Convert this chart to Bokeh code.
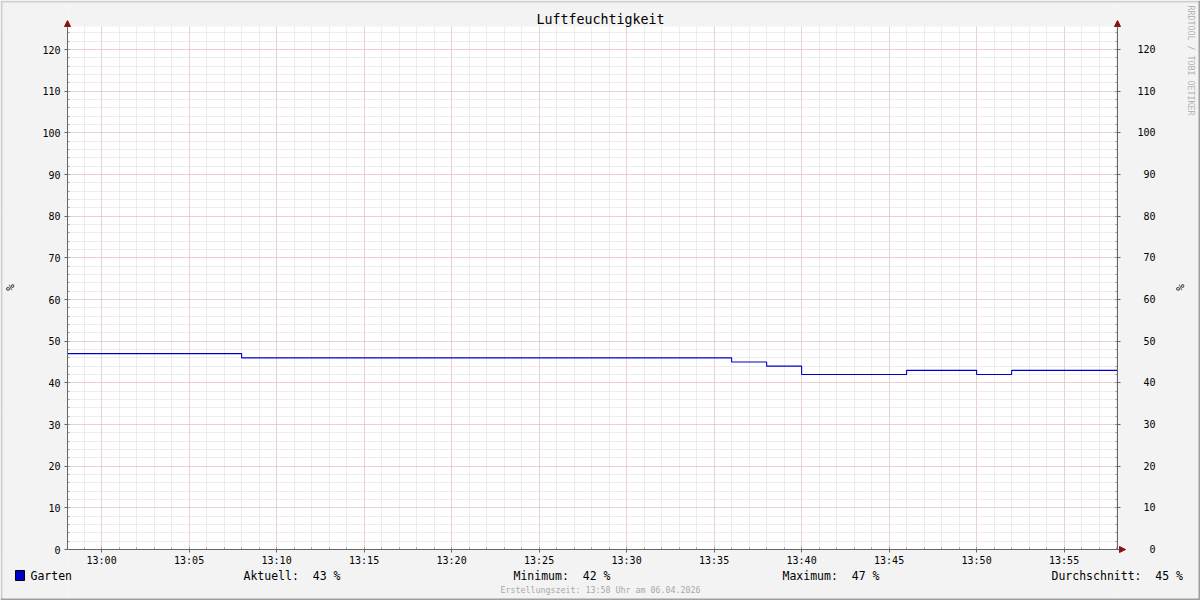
import math
import pandas as pd
from bokeh.plotting import figure
from bokeh.models import (Range1d, LinearAxis, DatetimeAxis, SingleIntervalTicker, DatetimeTickFormatter,
                          CustomJSTickFormatter, Label, BoxAnnotation, Arrow, NormalHead, Grid)
from bokeh.embed import file_html
from bokeh.resources import INLINE

# ---- data ----
title = "Luftfeuchtigkeit"
series_name = "Garten"
step_times = ["2026-04-06 12:58:03", "2026-04-06 13:08:00", "2026-04-06 13:36:00",
              "2026-04-06 13:38:00", "2026-04-06 13:40:00", "2026-04-06 13:46:00",
              "2026-04-06 13:50:00", "2026-04-06 13:52:00", "2026-04-06 13:58:03"]
step_values = [47, 46, 45, 44, 42, 43, 42, 43, 43]
x_start = "2026-04-06 12:58:03"
x_end = "2026-04-06 13:58:03"
y_min, y_max = 0, 125.5
unit_label = "%"
stats_labels = ["Aktuell:", "Minimum:", "Maximum:", "Durchschnitt:"]
stats_values = [43, 42, 47, 45]
footer = "Erstellungszeit: 13:58 Uhr am 06.04.2026"
watermark = "RRDTOOL / TOBI OETIKER"

MONO = "DejaVu Sans Mono"
BG = "#f3f3f3"
W, H = 1200, 600
# plot-area placement on the canvas (pixels)
PL, PR, PB = 67, 1117, 549
PX_PER_UNIT = 500 / 120

ts0, ts1 = pd.Timestamp(x_start), pd.Timestamp(x_end)
ms0, ms1 = ts0.value / 1e6, ts1.value / 1e6
ms_per_px = (ms1 - ms0) / (PR - PL)
xr = Range1d(ms0 - PL * ms_per_px, ms1 + (W - PR) * ms_per_px)
yr = Range1d(-(H - PB) / PX_PER_UNIT, PB / PX_PER_UNIT)

times = pd.to_datetime(step_times)

p = figure(width=W, height=H, x_axis_type=None, y_axis_type=None,
           x_range=xr, y_range=yr, title_location=None,
           output_backend="svg", toolbar_location=None,
           min_border=0, min_border_left=0, min_border_right=0,
           min_border_top=0, min_border_bottom=0)
p.border_fill_color = BG
p.background_fill_color = "white"
p.outline_line_color = None

# tickers
xt = SingleIntervalTicker(interval=5 * 60 * 1000, num_minor_ticks=5)
yt = SingleIntervalTicker(interval=10, num_minor_ticks=5)

xg = Grid(dimension=0, ticker=xt, bounds=(ms0, ms1))
yg = Grid(dimension=1, ticker=yt, bounds=(y_min, y_max))
for g in (xg, yg):
    g.grid_line_color = "#e6b4b4"
    g.grid_line_dash = "1 1"
    g.grid_line_width = 1
    g.minor_grid_line_color = "#dadada"
    g.minor_grid_line_dash = "1 1"
    g.minor_grid_line_width = 1
    p.add_layout(g)

# grey canvas around the plot area (covers grid overflow)
box_kw = dict(fill_color=BG, fill_alpha=1.0, line_color=None, level="underlay")
p.add_layout(BoxAnnotation(right=ms0, **box_kw))
p.add_layout(BoxAnnotation(left=ms1, **box_kw))
p.add_layout(BoxAnnotation(left=ms0, right=ms1, bottom=y_max, **box_kw))
p.add_layout(BoxAnnotation(left=ms0, right=ms1, top=y_min, **box_kw))

p.step(times, step_values, mode="after", line_color="#0000cc", line_width=1.1)

xax = DatetimeAxis(ticker=xt, fixed_location=y_min, bounds=(ms0, ms1),
                   formatter=DatetimeTickFormatter(minutes="%H:%M", hourmin="%H:%M", hours="%H:%M"))
lax = LinearAxis(ticker=yt, fixed_location=ms0, bounds=(y_min, y_max))
rax = LinearAxis(ticker=yt, fixed_location=ms1, bounds=(y_min, y_max),
                 formatter=CustomJSTickFormatter(code="return String(tick).padStart(3, '\\u00a0')"))
p.add_layout(xax, "below")
p.add_layout(lax, "left")
p.add_layout(rax, "right")

for ax in (xax, lax, rax):
    ax.axis_line_color = "#666666"
    ax.major_tick_line_color = "#666666"
    ax.minor_tick_line_color = "#999999"
    ax.major_label_text_font = MONO
    ax.major_label_text_font_size = "10px"
    ax.major_label_text_color = "#000000"
    ax.minor_tick_in = 2
    ax.minor_tick_out = 0
    ax.major_tick_in = 2
    ax.major_tick_out = 3

xax.major_label_standoff = 2
lax.major_label_standoff = 4
rax.major_label_standoff = 17


def sx(px):
    return px


def sy(py):
    return H - py


def lab(text, x, y, size, align="left", color="#000000", angle=0.0, baseline="middle"):
    p.add_layout(Label(x=sx(x), y=sy(y), x_units="screen", y_units="screen", text=text,
                       text_font=MONO, text_font_size=size, text_color=color,
                       text_align=align, text_baseline=baseline, angle=angle))


# title
lab(title, 600, 19, "13.3px", align="center")
# unit labels
lab(unit_label, 10, 287, "11px", align="center", angle=math.pi / 2)
lab(unit_label, 1180, 287, "11px", align="center", angle=math.pi / 2)
# watermark
lab(watermark, 1190, 5, "8.3px", color="#b4b4b4", angle=-math.pi / 2)

# axis arrows
head_col = "#8b1010"
for (x0, y0, x1, y1) in [(67, 549, 67, 20), (1117, 549, 1117, 20), (67, 549, 1125, 549)]:
    p.add_layout(Arrow(x_start=sx(x0), y_start=sy(y0), x_end=sx(x1), y_end=sy(y1),
                       start_units="screen", end_units="screen",
                       line_color="#666666", line_width=1,
                       end=NormalHead(size=6, fill_color=head_col, line_color=head_col)))

# legend
p.add_layout(BoxAnnotation(left=sx(15), right=sx(24), top=sy(570), bottom=sy(580),
                           left_units="screen", right_units="screen",
                           top_units="screen", bottom_units="screen",
                           fill_color="#0000cc", fill_alpha=1.0,
                           line_color="#000000", line_width=1, line_alpha=1.0))
lab(series_name, 30, 575, "11.5px")
stat_x = [243, 513, 782, 1051]
for lx, name, v in zip(stat_x, stats_labels, stats_values):
    lab(f"{name}\u00a0\u00a0{v}\u00a0%", lx, 575, "11.5px")
# footer
lab(footer, 600, 589, "8.3px", align="center", color="#a8a8a8")

# outer frame edges
edge = dict(left_units="screen", right_units="screen", top_units="screen", bottom_units="screen",
            fill_alpha=1.0, line_color=None)
p.add_layout(BoxAnnotation(left=0, right=W, top=sy(0), bottom=sy(2), fill_color="#cfcfcf", **edge))
p.add_layout(BoxAnnotation(left=0, right=2, top=sy(0), bottom=sy(H), fill_color="#cfcfcf", **edge))
p.add_layout(BoxAnnotation(left=0, right=W, top=sy(598), bottom=sy(H), fill_color="#9f9f9f", **edge))
p.add_layout(BoxAnnotation(left=W - 2, right=W, top=sy(0), bottom=sy(H), fill_color="#9f9f9f", **edge))

open("out.html", "w").write(file_html(p, INLINE))
